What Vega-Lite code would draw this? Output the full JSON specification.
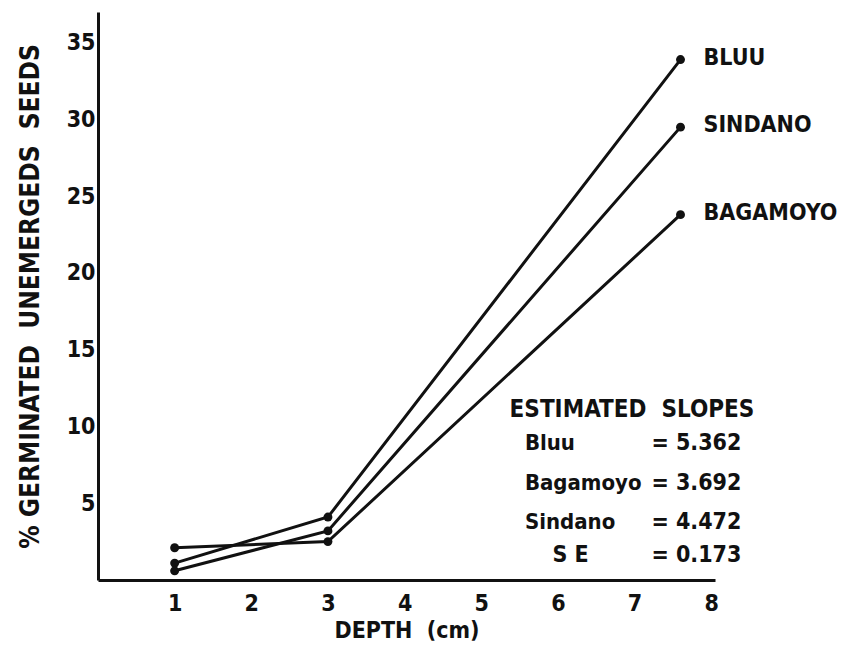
{
  "$schema": "https://vega.github.io/schema/vega-lite/v6.json",
  "width": 617,
  "height": 568,
  "autosize": "none",
  "padding": {"left": 98, "top": 12, "right": 128, "bottom": 69},
  "background": "white",
  "config": {
    "view": {"stroke": null},
    "font": "DejaVu Sans Condensed",
    "text": {"font": "DejaVu Sans Condensed", "fontWeight": "bold", "fontSize": 23, "color": "#111111"},
    "axis": {
      "grid": false,
      "ticks": false,
      "domainColor": "#111111",
      "domainWidth": 3,
      "labelColor": "#111111",
      "labelFont": "DejaVu Sans Condensed",
      "labelFontWeight": "bold",
      "labelFontSize": 23,
      "titleColor": "#111111",
      "titleFont": "DejaVu Sans Condensed",
      "titleFontWeight": "bold"
    }
  },
  "datasets": {
    "germination": [
      {"variety": "BLUU", "depth": 1, "pct": 1.1},
      {"variety": "BLUU", "depth": 3, "pct": 4.1},
      {"variety": "BLUU", "depth": 7.6, "pct": 33.9},
      {"variety": "SINDANO", "depth": 1, "pct": 0.6},
      {"variety": "SINDANO", "depth": 3, "pct": 3.2},
      {"variety": "SINDANO", "depth": 7.6, "pct": 29.5},
      {"variety": "BAGAMOYO", "depth": 1, "pct": 2.1},
      {"variety": "BAGAMOYO", "depth": 3, "pct": 2.5},
      {"variety": "BAGAMOYO", "depth": 7.6, "pct": 23.8}
    ],
    "slopes": [
      {"name": "Bluu", "value": "= 5.362", "row": 8.93},
      {"name": "Bagamoyo", "value": "= 3.692", "row": 6.32},
      {"name": "Sindano", "value": "= 4.472", "row": 3.78}
    ]
  },
  "layer": [
    {
      "data": {"name": "germination"},
      "mark": {"type": "line", "color": "#111111", "strokeWidth": 3},
      "encoding": {
        "x": {
          "field": "depth",
          "type": "quantitative",
          "scale": {"domain": [0, 8.05], "nice": false, "zero": false},
          "axis": {
            "values": [1, 2, 3, 4, 5, 6, 7, 8],
            "format": "d",
            "labelPadding": 12,
            "title": "DEPTH\u00a0 (cm)",
            "titleFontSize": 23,
            "titlePadding": 4
          }
        },
        "y": {
          "field": "pct",
          "type": "quantitative",
          "scale": {"domain": [0, 37], "nice": false},
          "axis": {
            "values": [5, 10, 15, 20, 25, 30, 35],
            "labelPadding": 3,
            "title": "% GERMINATED\u00a0 UNEMERGEDS\u00a0 SEEDS",
            "titleFontSize": 26,
            "titlePadding": 23
          }
        },
        "detail": {"field": "variety"}
      }
    },
    {
      "data": {"name": "germination"},
      "mark": {"type": "point", "filled": true, "color": "#111111", "size": 80, "opacity": 1},
      "encoding": {
        "x": {"field": "depth", "type": "quantitative"},
        "y": {"field": "pct", "type": "quantitative"}
      }
    },
    {
      "data": {"name": "germination"},
      "transform": [{"filter": "datum.depth > 7"}],
      "mark": {"type": "text", "align": "left", "baseline": "middle", "dx": 23, "dy": -2},
      "encoding": {
        "x": {"field": "depth", "type": "quantitative"},
        "y": {"field": "pct", "type": "quantitative"},
        "text": {"field": "variety"}
      }
    },
    {
      "data": {"values": [{"depth": 5.37, "pct": 11.1, "label": "ESTIMATED\u00a0 SLOPES"}]},
      "mark": {"type": "text", "align": "left", "baseline": "middle", "fontSize": 24},
      "encoding": {
        "x": {"field": "depth", "type": "quantitative"},
        "y": {"field": "pct", "type": "quantitative"},
        "text": {"field": "label"}
      }
    },
    {
      "data": {"name": "slopes"},
      "mark": {"type": "text", "align": "left", "baseline": "middle", "fontSize": 22},
      "encoding": {
        "x": {"datum": 5.57, "type": "quantitative"},
        "y": {"field": "row", "type": "quantitative"},
        "text": {"field": "name"}
      }
    },
    {
      "data": {"name": "slopes"},
      "mark": {"type": "text", "align": "left", "baseline": "middle"},
      "encoding": {
        "x": {"datum": 7.22, "type": "quantitative"},
        "y": {"field": "row", "type": "quantitative"},
        "text": {"field": "value"}
      }
    },
    {
      "data": {"values": [{"name": "S E", "value": "= 0.173", "row": 1.63}]},
      "layer": [
        {
          "mark": {"type": "text", "align": "left", "baseline": "middle"},
          "encoding": {
            "x": {"datum": 5.93, "type": "quantitative"},
            "y": {"field": "row", "type": "quantitative"},
            "text": {"field": "name"}
          }
        },
        {
          "mark": {"type": "text", "align": "left", "baseline": "middle"},
          "encoding": {
            "x": {"datum": 7.22, "type": "quantitative"},
            "y": {"field": "row", "type": "quantitative"},
            "text": {"field": "value"}
          }
        }
      ]
    }
  ]
}
